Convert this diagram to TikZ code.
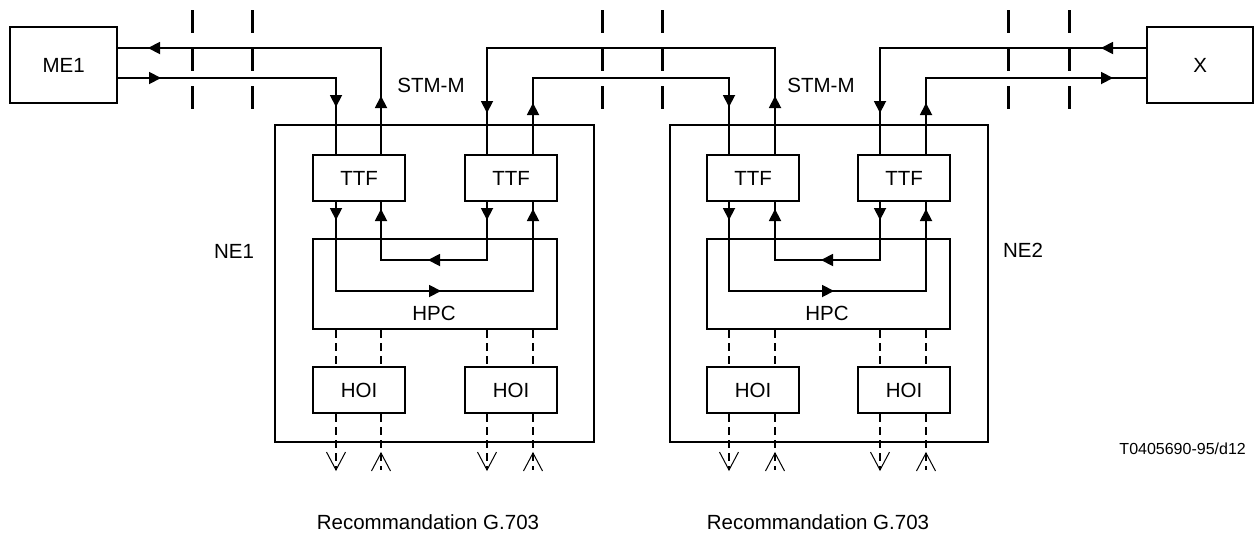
\documentclass[tikz,border=0pt]{standalone}
\usepackage{fontspec}
\setmainfont{Liberation Sans}
\begin{document}
\begin{tikzpicture}[x=1pt,y=-1pt,
  ln/.style={line width=2.1pt},
  box/.style={draw,line width=2.2pt,inner sep=0pt,anchor=north west,font=\fontsize{20.5}{24}\selectfont},
  lbl/.style={font=\fontsize{20.5}{24}\selectfont,inner sep=0pt},
  sml/.style={font=\fontsize{16}{19}\selectfont,inner sep=0pt},
  sepline/.style={line width=3pt,dash pattern=on 23pt off 15pt},
  dsh/.style={line width=2.2pt,dash pattern=on 8pt off 5pt},
  openhead/.style={line width=1pt,line join=miter}
]
\useasboundingbox (0,0) rectangle (1257,536);

% outer equipment
\node[box,minimum width=107pt,minimum height=76pt] (ME1) at (9,26) {ME1};
\node[box,minimum width=106pt,minimum height=76pt] (X) at (1146,26) {X};

% network elements
\node[box,minimum width=319pt,minimum height=317pt] (NE1) at (274,124) {};
\node[box,minimum width=318pt,minimum height=317pt] (NE2) at (669,124) {};

% TTF
\node[box,minimum width=92pt,minimum height=46pt] (t11) at (312,154) {TTF};
\node[box,minimum width=92pt,minimum height=46pt] (t12) at (464,154) {TTF};
\node[box,minimum width=92pt,minimum height=46pt] (t21) at (706,154) {TTF};
\node[box,minimum width=92pt,minimum height=46pt] (t22) at (857,154) {TTF};

% HPC
\node[box,minimum width=244pt,minimum height=90pt] (h1) at (312,238) {};
\node[box,minimum width=243pt,minimum height=90pt] (h2) at (706,238) {};
\node[lbl] (h1l) at (434,313) {HPC};
\node[lbl] (h2l) at (827,313) {HPC};

% HOI
\node[box,minimum width=92pt,minimum height=46pt] (o11) at (312,366) {HOI};
\node[box,minimum width=92pt,minimum height=46pt] (o12) at (464,366) {HOI};
\node[box,minimum width=92pt,minimum height=46pt] (o21) at (706,366) {HOI};
\node[box,minimum width=92pt,minimum height=46pt] (o22) at (857,366) {HOI};

% labels
\node[lbl] (stm1) at (431,85) {STM-M};
\node[lbl] (stm2) at (821,85) {STM-M};
\node[lbl] (ne1l) at (234,251) {NE1};
\node[lbl] (ne2l) at (1023,250) {NE2};
\node[sml,anchor=east] (ref) at (1246,449) {T0405690-95/d12};
\node[lbl] (rec1) at (428,522) {Recommandation G.703};
\node[lbl] (rec2) at (818,522) {Recommandation G.703};

% section separators
\foreach \sx in {192,252,602,662,1008,1069}
  \draw[sepline] (\sx,10) -- (\sx,109);

% external STM-M connections
\draw[ln] (t11.north -| 381,0) -- (381,48) -- (ME1.east |- 0,48);
\draw[ln] (ME1.east |- 0,78) -- (336,78) -- (t11.north -| 336,0);
\draw[ln] (t12.north -| 487,0) -- (487,48) -- (775,48) -- (t21.north -| 775,0);
\draw[ln] (t12.north -| 533,0) -- (533,78) -- (729,78) -- (t21.north -| 729,0);
\draw[ln] (X.west |- 0,48) -- (880,48) -- (t22.north -| 880,0);
\draw[ln] (X.west |- 0,78) -- (926,78) -- (t22.north -| 926,0);

% internal loops
\draw[ln] (t11.south -| 336,0) -- (336,291) -- (533,291) -- (t12.south -| 533,0);
\draw[ln] (t11.south -| 381,0) -- (381,260) -- (487,260) -- (t12.south -| 487,0);
\draw[ln] (t21.south -| 729,0) -- (729,291) -- (926,291) -- (t22.south -| 926,0);
\draw[ln] (t21.south -| 775,0) -- (775,260) -- (880,260) -- (t22.south -| 880,0);

% arrow heads (filled)
\newcommand\hdDown[2]{\fill (#1,#2) -- ++(-6.25,-12) -- ++(12.5,0) -- cycle;}
\newcommand\hdUp[2]{\fill (#1,#2) -- ++(-6.25,12) -- ++(12.5,0) -- cycle;}
\newcommand\hdLeft[2]{\fill (#1,#2) -- ++(12,-6.25) -- ++(0,12.5) -- cycle;}
\newcommand\hdRight[2]{\fill (#1,#2) -- ++(-12,-6.25) -- ++(0,12.5) -- cycle;}
\hdLeft{148}{48}
\hdRight{161}{78}
\hdDown{336}{107}
\hdUp{381}{96}
\hdDown{487}{113}
\hdUp{533}{103}
\hdDown{729}{107}
\hdUp{775}{96}
\hdDown{880}{113}
\hdUp{926}{103}
\hdLeft{1101}{48}
\hdRight{1113}{78}
\foreach \ax in {336,487,729,880} {\hdDown{\ax}{220}}
\foreach \ax in {381,533,775,926} {\hdUp{\ax}{209}}
\hdLeft{428}{260}
\hdRight{441}{291}
\hdLeft{821}{260}
\hdRight{834}{291}

% dashed tributary lines
\draw[dsh] (h1.south -| 336,0) -- (o11.north -| 336,0);
\draw[dsh] (h1.south -| 381,0) -- (o11.north -| 381,0);
\draw[dsh] (h1.south -| 487,0) -- (o12.north -| 487,0);
\draw[dsh] (h1.south -| 533,0) -- (o12.north -| 533,0);
\draw[dsh] (h2.south -| 729,0) -- (o21.north -| 729,0);
\draw[dsh] (h2.south -| 775,0) -- (o21.north -| 775,0);
\draw[dsh] (h2.south -| 880,0) -- (o22.north -| 880,0);
\draw[dsh] (h2.south -| 926,0) -- (o22.north -| 926,0);

\foreach \hn/\ax in {o11/336,o12/487,o21/729,o22/880} {
  \coordinate (d\ax) at (\ax,470);
  \draw[dsh] (\hn.south -| \ax,0) -- (d\ax);
  \draw[openhead] (\ax-9.5,452) -- (d\ax) -- (\ax+9.5,452);
}
\foreach \hn/\ax in {o11/381,o12/533,o21/775,o22/926} {
  \coordinate (u\ax) at (\ax,453);
  \draw[dsh] (\hn.south -| \ax,0) -- (\ax,470);
  \draw[openhead] (\ax-9.5,471) -- (u\ax) -- (\ax+9.5,471);
}
\end{tikzpicture}
\end{document}
